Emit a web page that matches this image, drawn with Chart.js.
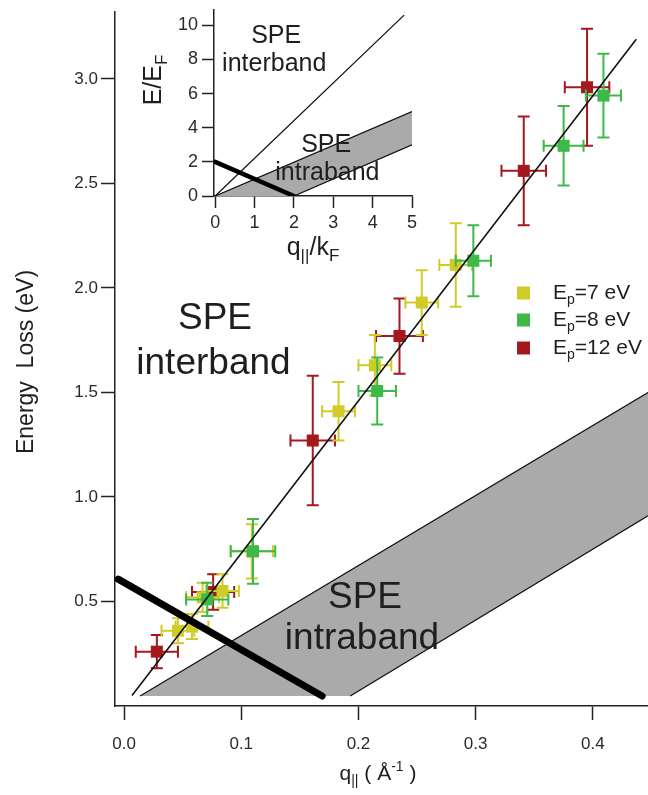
<!DOCTYPE html>
<html>
<head>
<meta charset="utf-8">
<script src="https://cdn.jsdelivr.net/npm/chart.js@4.4.1/dist/chart.umd.min.js"></script>
<style>
  body { margin: 0; background: #fff; }
  #wrap { position: relative; width: 648px; height: 795px; }
  #main { position: absolute; left: 0; top: 0; }
  #inset { position: absolute; left: 140px; top: 0; }
</style>
</head>
<body>
<div id="wrap">
  <canvas id="main" width="648" height="795"></canvas>
  <canvas id="inset" width="290" height="265"></canvas>
</div>
<script>
// ---- datos del grafico principal ----
const qTicks = [0.0, 0.1, 0.2, 0.3, 0.4];
const lossTicks = [0.5, 1.0, 1.5, 2.0, 2.5, 3.0];
const beamEnergies = [7, 8, 12];

// Ep = 7 eV
const q7 = [0.046, 0.058, 0.067, 0.084, 0.109, 0.183, 0.214, 0.254, 0.283];
const loss7 = [0.36, 0.38, 0.52, 0.55, 0.74, 1.41, 1.63, 1.93, 2.11];
const q7Err = [0.014, 0.014, 0.014, 0.014, 0.018, 0.014, 0.014, 0.014, 0.014];
const loss7Err = [0.06, 0.06, 0.07, 0.08, 0.13, 0.14, 0.145, 0.155, 0.2];

// Ep = 8 eV
const q8 = [0.071, 0.110, 0.216, 0.298, 0.375, 0.409];
const loss8 = [0.51, 0.74, 1.507, 2.13, 2.68, 2.92];
const q8Err = [0.018, 0.019, 0.016, 0.015, 0.017, 0.015];
const loss8Err = [0.08, 0.155, 0.16, 0.17, 0.19, 0.2];

// Ep = 12 eV
const q12 = [0.028, 0.076, 0.161, 0.235, 0.341, 0.395];
const loss12 = [0.26, 0.545, 1.27, 1.77, 2.56, 2.96];
const q12Err = [0.018, 0.018, 0.019, 0.02, 0.019, 0.019];
const loss12Err = [0.08, 0.085, 0.31, 0.18, 0.26, 0.28];

// rectas del modelo
const fitLine = [{x: 0.0068, y: 0.05}, {x: 0.437, y: 3.19}];
const thickLine = [{x: -0.005, y: 0.607}, {x: 0.169, y: 0.048}];
const intraUpper = [{x: 0.0137, y: 0.048}, {x: 0.447, y: 1.50}];
const intraLower = [{x: 0.193, y: 0.048}, {x: 0.447, y: 0.91}];

// ---- datos del inset ----
const insetQTicks = [0, 1, 2, 3, 4, 5];
const insetETicks = [0, 2, 4, 6, 8, 10];
const insetInter = [{x: 0, y: 0}, {x: 4.8, y: 10.6}];
const insetUpper = [{x: 0, y: 0}, {x: 5, y: 4.95}];
const insetLower = [{x: 2, y: 0}, {x: 5, y: 3}];
const insetThick = [{x: 0, y: 2}, {x: 2, y: 0}];

const FONT = '"Liberation Sans", Arial, Helvetica, sans-serif';
const GRAY = '#aaaaaa';
const colores = ['#cfcc2a', '#3cb948', '#a5191e'];

const toPts = (xs, ys) => xs.map((x, i) => ({x: x, y: ys[i]}));

// texto con subindices / superindices: partes [texto, 0 normal | 1 sub | 2 sup]
function drawRich(ctx, parts, cx, cy, size, rotate, align) {
    ctx.save();
    ctx.translate(cx, cy);
    if (rotate) ctx.rotate(-Math.PI / 2);
    ctx.fillStyle = '#1e1e1e';
    ctx.textBaseline = 'middle';
    ctx.textAlign = 'left';
    const fontFor = k => `${k ? Math.round(size * 0.68) : size}px ${FONT}`;
    let w = 0;
    parts.forEach(([t, k]) => { ctx.font = fontFor(k); w += ctx.measureText(t).width; });
    let x = align === 'left' ? 0 : -w / 2;
    parts.forEach(([t, k]) => {
        ctx.font = fontFor(k);
        const dy = k === 1 ? size * 0.32 : (k === 2 ? -size * 0.33 : 0);
        ctx.fillText(t, x, dy);
        x += ctx.measureText(t).width;
    });
    ctx.restore();
}

// barras de error dibujadas con las escalas del grafico
const errorBars = {
    id: 'errorBars',
    beforeDatasetDraw(chart, args) {
        const ds = chart.data.datasets[args.index];
        if (!ds.errX) return;
        const ctx = chart.ctx;
        const sx = chart.scales.x, sy = chart.scales.y;
        ctx.save();
        ctx.strokeStyle = ds.backgroundColor;
        ctx.lineWidth = 2;
        ds.data.forEach((p, i) => {
            const px = sx.getPixelForValue(p.x), py = sy.getPixelForValue(p.y);
            const x0 = sx.getPixelForValue(p.x - ds.errX[i]);
            const x1 = sx.getPixelForValue(p.x + ds.errX[i]);
            const y0 = sy.getPixelForValue(p.y - ds.errY[i]);
            const y1 = sy.getPixelForValue(p.y + ds.errY[i]);
            const c = 6;
            ctx.beginPath();
            ctx.moveTo(x0, py); ctx.lineTo(x1, py);
            ctx.moveTo(px, y0); ctx.lineTo(px, y1);
            ctx.moveTo(x0, py - c); ctx.lineTo(x0, py + c);
            ctx.moveTo(x1, py - c); ctx.lineTo(x1, py + c);
            ctx.moveTo(px - c, y0); ctx.lineTo(px + c, y0);
            ctx.moveTo(px - c, y1); ctx.lineTo(px + c, y1);
            ctx.stroke();
        });
        ctx.restore();
    }
};

// textos del grafico principal
const mainTexts = {
    id: 'mainTexts',
    afterDraw(chart) {
        const ctx = chart.ctx;
        const sx = chart.scales.x, sy = chart.scales.y;
        const at = (x, y) => [sx.getPixelForValue(x), sy.getPixelForValue(y)];
        let p = at(0.0776, 1.85); drawRich(ctx, [['SPE', 0]], p[0], p[1], 37);
        p = at(0.0763, 1.636); drawRich(ctx, [['interband', 0]], p[0], p[1], 37);
        p = at(0.2056, 0.52); drawRich(ctx, [['SPE', 0]], p[0], p[1], 37);
        p = at(0.203, 0.32); drawRich(ctx, [['intraband', 0]], p[0], p[1], 37);

        // titulos de ejes
        drawRich(ctx, [['q', 0], ['||', 1], [' ( Å', 0], ['-1', 2], [' )', 0]], 378, 774, 21);
        drawRich(ctx, [['Energy  Loss (eV)', 0]], 27, 362, 23, true);

        // leyenda
        const rows = [293, 320, 348];
        beamEnergies.forEach((e, i) => {
            ctx.fillStyle = colores[i];
            ctx.fillRect(517, rows[i] - 6.5, 13, 13);
            drawRich(ctx, [['E', 0], ['p', 1], ['=' + e + ' eV', 0]], 553, rows[i], 21, false, 'left');
        });
    }
};

const sinPadding = a => { a.paddingLeft = 0; a.paddingRight = 0; a.paddingTop = 0; a.paddingBottom = 0; };

const ejeComun = (ticks, fmt, pad, extra) => Object.assign({
    type: 'linear',
    afterBuildTicks: a => { a.ticks = ticks.map(v => ({value: v})); },
    grid: { drawOnChartArea: false, drawTicks: true, tickLength: 14, tickColor: '#222', tickWidth: 1.5 },
    border: { display: true, color: '#222', width: 1.5 },
    ticks: { font: { size: 17, family: FONT }, color: '#2a2a2a', padding: pad, callback: fmt }
}, extra);

new Chart(document.getElementById('main'), {
    type: 'scatter',
    data: {
        datasets: [
            { label: 'band', data: [intraUpper[0], intraUpper[1], intraLower[1], intraLower[0]],
              showLine: true, fill: 'shape', backgroundColor: GRAY, borderWidth: 0, pointRadius: 0, order: 10 },
            { data: intraUpper, showLine: true, borderColor: '#111', borderWidth: 1.3, pointRadius: 0, order: 9 },
            { data: intraLower, showLine: true, borderColor: '#111', borderWidth: 1.3, pointRadius: 0, order: 9 },
            { label: 'Ep=12 eV', data: toPts(q12, loss12), errX: q12Err, errY: loss12Err,
              backgroundColor: colores[2], pointStyle: 'rect', pointRadius: 8.5, borderWidth: 0, order: 6 },
            { label: 'Ep=7 eV', data: toPts(q7, loss7), errX: q7Err, errY: loss7Err,
              backgroundColor: colores[0], pointStyle: 'rect', pointRadius: 8.5, borderWidth: 0, order: 5 },
            { label: 'Ep=8 eV', data: toPts(q8, loss8), errX: q8Err, errY: loss8Err,
              backgroundColor: colores[1], pointStyle: 'rect', pointRadius: 8.5, borderWidth: 0, order: 4 },
            { data: fitLine, showLine: true, borderColor: '#111', borderWidth: 1.6, pointRadius: 0, order: 2 },
            { data: thickLine, showLine: true, borderColor: '#000', borderWidth: 7, borderCapStyle: 'round',
              pointRadius: 0, order: 1 }
        ]
    },
    options: {
        responsive: false,
        animation: false,
        layout: { autoPadding: false, padding: { top: 12, right: 0, left: 0, bottom: 0 } },
        plugins: { legend: { display: false }, tooltip: { enabled: false } },
        scales: {
            x: ejeComun(qTicks, v => v.toFixed(1), 14, { min: -0.0077, max: 0.447,
                afterFit: a => { a.height = 89; sinPadding(a); } }),
            y: ejeComun(lossTicks, v => v.toFixed(1), 3, { min: 0, max: 3.32,
                afterFit: a => { a.width = 115; sinPadding(a); } })
        }
    },
    plugins: [errorBars, mainTexts]
});

// ---- inset ----
const insetTexts = {
    id: 'insetTexts',
    afterDraw(chart) {
        const ctx = chart.ctx;
        const sx = chart.scales.x, sy = chart.scales.y;
        const at = (x, y) => [sx.getPixelForValue(x), sy.getPixelForValue(y)];
        let p = at(1.55, 9.36); drawRich(ctx, [['SPE', 0]], p[0], p[1], 25);
        p = at(1.5, 7.7); drawRich(ctx, [['interband', 0]], p[0], p[1], 25);
        p = at(2.82, 2.98); drawRich(ctx, [['SPE', 0]], p[0], p[1], 25);
        p = at(2.85, 1.35); drawRich(ctx, [['intraband', 0]], p[0], p[1], 25);
        drawRich(ctx, [['q', 0], ['||', 1], ['/k', 0], ['F', 1]], 173, 248, 25);
        drawRich(ctx, [['E/E', 0], ['F', 1]], 14, 80, 25, true);
    }
};

const ejeInset = (ticks, extra) => Object.assign({
    type: 'linear',
    afterBuildTicks: a => { a.ticks = ticks.map(v => ({value: v})); },
    grid: { drawOnChartArea: false, drawTicks: true, tickLength: 12, tickColor: '#222', tickWidth: 1.5 },
    border: { display: true, color: '#222', width: 1.5 },
    ticks: { font: { size: 18, family: FONT }, color: '#2a2a2a', padding: 4 }
}, extra);

new Chart(document.getElementById('inset'), {
    type: 'scatter',
    data: {
        datasets: [
            { data: [insetUpper[0], insetUpper[1], insetLower[1], insetLower[0]], showLine: true, fill: 'shape',
              backgroundColor: GRAY, borderWidth: 0, pointRadius: 0, order: 10 },
            { data: insetUpper, showLine: true, borderColor: '#111', borderWidth: 1.3, pointRadius: 0, order: 5 },
            { data: insetLower, showLine: true, borderColor: '#111', borderWidth: 1.3, pointRadius: 0, order: 5 },
            { data: insetInter, showLine: true, borderColor: '#111', borderWidth: 1.3, pointRadius: 0, order: 5 },
            { data: insetThick, showLine: true, borderColor: '#000', borderWidth: 4.5, borderCapStyle: 'round',
              pointRadius: 0, order: 1 }
        ]
    },
    options: {
        responsive: false,
        animation: false,
        layout: { autoPadding: false, padding: { top: 10, right: 18, left: 0, bottom: 0 } },
        plugins: { legend: { display: false }, tooltip: { enabled: false } },
        scales: {
            x: ejeInset(insetQTicks, { min: -0.03, max: 5, afterFit: a => { a.height = 69; sinPadding(a); } }),
            y: ejeInset(insetETicks, { min: 0, max: 10.9, afterFit: a => { a.width = 74; sinPadding(a); } })
        }
    },
    plugins: [insetTexts]
});
</script>
</body>
</html>
